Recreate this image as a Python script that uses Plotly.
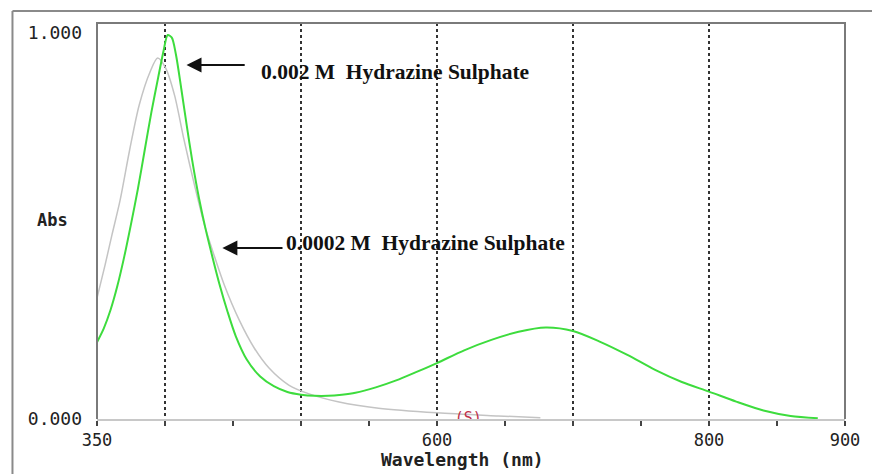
import plotly.graph_objects as go

# ---- data ----
green_wl = [350, 355, 360, 365, 370, 375, 380, 385, 390, 395, 399, 402, 405, 408, 412, 416, 420, 425,
            430, 435, 440, 446, 452, 460, 470, 480, 490, 500, 510, 520, 530, 540, 555, 570, 585, 600,
            620, 640, 660, 680, 700, 720, 740, 760, 780, 800, 820, 840, 860, 880]
green_abs = [0.199, 0.235, 0.283, 0.345, 0.42, 0.505, 0.595, 0.695, 0.795, 0.885, 0.955, 0.995, 0.988, 0.945,
             0.855, 0.76, 0.67, 0.572, 0.49, 0.418, 0.35, 0.278, 0.215, 0.155, 0.11, 0.085, 0.07, 0.063,
             0.06, 0.06, 0.063, 0.068, 0.082, 0.1, 0.122, 0.145, 0.178, 0.205, 0.226, 0.237, 0.228, 0.2,
             0.166, 0.128, 0.096, 0.071, 0.045, 0.022, 0.008, 0.002]

gray_wl = [350, 356, 361, 367, 374, 381, 389, 394.6, 400.5, 407, 414, 421.7, 429, 436, 443.6, 454.6, 465.6,
           476.5, 491, 506, 528, 557, 600, 645, 676]
gray_abs = [0.313, 0.4, 0.477, 0.567, 0.697, 0.813, 0.899, 0.935, 0.909, 0.839, 0.723, 0.606, 0.503, 0.425,
            0.347, 0.256, 0.184, 0.132, 0.088, 0.065, 0.044, 0.028, 0.016, 0.008, 0.003]

x_tick_vals = [350, 400, 450, 500, 550, 600, 650, 700, 750, 800, 850, 900]
x_tick_text = ["350", "", "", "", "", "600", "", "", "", "800", "", "900"]
x_grid_vals = [400, 500, 600, 700, 800]
y_tick_vals = [0, 1]
y_tick_text = ["0.000", "1.000"]

label_high = "0.002 M  Hydrazine Sulphate"
label_low = "0.0002 M  Hydrazine Sulphate"
sample_mark = "(S)"
sample_mark_wl = [623]
sample_mark_abs = [0.0]

MONO = "DejaVu Sans Mono"
SERIF = "Liberation Serif"

fig = go.Figure()
fig.add_trace(go.Scatter(x=gray_wl, y=gray_abs, mode="lines",
                         line=dict(color="#c4c4c4", width=1.5, shape="spline", smoothing=0.8),
                         showlegend=False, hoverinfo="skip"))
fig.add_trace(go.Scatter(x=green_wl, y=green_abs, mode="lines",
                         line=dict(color="#3ddc3d", width=2, shape="spline", smoothing=0.8),
                         showlegend=False, hoverinfo="skip"))
# partially hidden sample marker (clipped by the plot area)
fig.add_trace(go.Scatter(x=sample_mark_wl, y=sample_mark_abs, mode="text", text=[sample_mark],
                         textposition="middle center", cliponaxis=True,
                         textfont=dict(family=MONO, size=15, color="#c03048"),
                         showlegend=False, hoverinfo="skip"))

annotations = [
    # arrows
    dict(x=415.8, y=0.917, ax=459.7, ay=0.917, xref="x", yref="y", axref="x", ayref="y", text="",
         showarrow=True, arrowhead=2, arrowsize=1.5, arrowwidth=2, arrowcolor="#111"),
    dict(x=442.2, y=0.443, ax=487.5, ay=0.443, xref="x", yref="y", axref="x", ayref="y", text="",
         showarrow=True, arrowhead=2, arrowsize=1.5, arrowwidth=2, arrowcolor="#111"),
    dict(x=469.2, y=0.899, xref="x", yref="y", text="<b>" + label_high + "</b>", showarrow=False,
         xanchor="left", yanchor="middle", font=dict(family=SERIF, size=21.5, color="#111")),
    dict(x=487.5, y=0.456, xref="x", yref="y", text="<b>" + label_low + "</b>", showarrow=False,
         xanchor="left", yanchor="middle", font=dict(family=SERIF, size=21.5, color="#111")),
    dict(x=-0.06, y=0.5025, xref="paper", yref="paper", text="<b>Abs</b>", showarrow=False,
         xanchor="center", yanchor="middle", font=dict(family=MONO, size=17, color="#222")),
    dict(x=0.488, y=-0.103, xref="paper", yref="paper", text="<b>Wavelength (nm)</b>", showarrow=False,
         xanchor="center", yanchor="middle", font=dict(family=MONO, size=18, color="#222")),
]

shapes = [
    # plot frame: left, top, right (dark gray)
    dict(type="path", xref="paper", yref="paper", path="M 0,0 L 0,1 L 1,1 L 1,0",
         line=dict(color="#7a7a7a", width=2)),
    # outer frame: top and left
    dict(type="line", xref="paper", yref="paper", x0=-0.113, x1=1.05, y0=1.0303, y1=1.0303,
         line=dict(color="#8a8a8a", width=2)),
    dict(type="line", xref="paper", yref="paper", x0=-0.113, x1=-0.113, y0=1.0303, y1=-0.2,
         line=dict(color="#8a8a8a", width=2)),
]

fig.update_layout(
    width=872, height=474,
    margin=dict(l=97, r=23, t=23, b=55),
    paper_bgcolor="white", plot_bgcolor="white",
    annotations=annotations, shapes=shapes,
    xaxis=dict(range=[350, 900], tickmode="array", tickvals=x_tick_vals, ticktext=x_tick_text,
               ticks="outside", ticklen=5, tickwidth=1.5, tickcolor="#444",
               showgrid=False, zeroline=False, showline=True, linecolor="#c8c8c8", linewidth=2,
               tickfont=dict(family=MONO, size=17, color="#222"),
               minor=dict(tickmode="array", tickvals=x_grid_vals, showgrid=True, gridcolor="#333",
                          griddash="dot", gridwidth=1.5, ticks="")),
    yaxis=dict(range=[0, 1.026], tickmode="array", tickvals=y_tick_vals, ticktext=y_tick_text,
               ticks="", showgrid=False, zeroline=False, showline=False,
               ticklabelstandoff=14,
               tickfont=dict(family=MONO, size=18, color="#222")),
)

fig.write_html("out.html")
